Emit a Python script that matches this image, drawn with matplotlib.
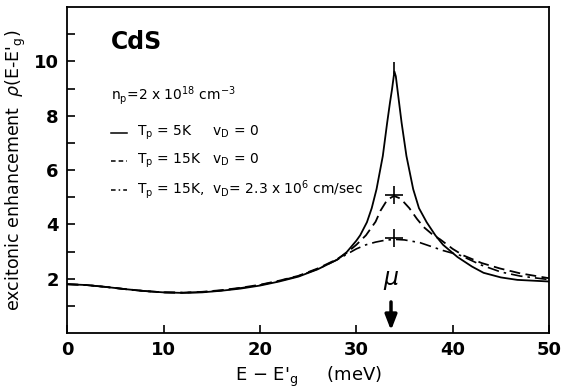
import numpy as np
import matplotlib.pyplot as plt

# solid: T_p = 5K, v_D = 0
x_5k = [0, 2, 4, 6, 8, 10, 12, 14, 16, 18, 20, 22, 24, 26, 28, 29, 30, 30.4, 31.1,
        31.6, 32.1, 32.75, 33.2, 33.5, 33.7, 33.95, 34.1, 34.27, 34.7, 35.2, 35.9,
        36.5, 37.3, 38.2, 39, 40.5, 42, 43.2, 45, 46.7, 50]
y_5k = [1.8, 1.77, 1.7, 1.62, 1.55, 1.5, 1.48, 1.5, 1.56, 1.64, 1.75, 1.9, 2.08, 2.35,
        2.7, 2.98, 3.4, 3.6, 4.08, 4.6, 5.3, 6.52, 7.74, 8.5, 8.96, 9.63, 9.45, 8.96,
        7.74, 6.52, 5.3, 4.6, 4.08, 3.6, 3.25, 2.8, 2.45, 2.22, 2.05, 1.96, 1.9]

# dashed: T_p = 15K, v_D = 0
x_15k = [0, 2, 4, 6, 8, 10, 12, 14, 16, 18, 20, 22, 24, 26, 28, 29, 30, 31, 32, 32.5,
         33.2, 33.9, 34.6, 35.5, 36.3, 37, 38, 38.7, 40, 41.1, 43, 44.9, 47, 50]
y_15k = [1.8, 1.77, 1.7, 1.62, 1.55, 1.5, 1.49, 1.52, 1.58, 1.67, 1.78, 1.93, 2.11,
         2.38, 2.72, 2.95, 3.25, 3.6, 4.1, 4.5, 4.9, 5.05, 4.95, 4.6, 4.2, 3.9, 3.6,
         3.45, 3.1, 2.86, 2.58, 2.38, 2.2, 2.02]

# dash-dot: T_p = 15K, v_D = 2.3e6 cm/sec
x_drift = [0, 2, 4, 6, 8, 10, 12, 14, 16, 18, 20, 22, 24, 26, 28, 29, 30, 31, 32, 33,
           34, 35, 36.6, 39, 40.8, 43, 45, 47, 50]
y_drift = [1.8, 1.77, 1.7, 1.62, 1.55, 1.5, 1.49, 1.51, 1.57, 1.66, 1.77, 1.92, 2.1,
           2.36, 2.7, 2.9, 3.1, 3.25, 3.35, 3.42, 3.45, 3.43, 3.33, 3.04, 2.86, 2.5,
           2.25, 2.1, 1.97]

mu = 33.6
cross_x = [33.9, 33.9]
cross_y = [5.1, 3.5]

plt.figure(figsize=(5.69, 3.91), dpi=100)
ax = plt.axes([0.118, 0.148, 0.847, 0.834])

ax.plot(x_5k, y_5k, color='black', lw=1.3, ls='-')
ax.plot(x_15k, y_15k, color='black', lw=1.3, ls=(0, (6, 3)))
ax.plot(x_drift, y_drift, color='black', lw=1.2, ls=(0, (7, 3, 1.5, 3)))
ax.plot(cross_x, cross_y, ls='none', marker='+', ms=13, mew=1.2, color='black')
ax.plot([33.95], [9.75], ls='none', marker='|', ms=8, mew=1.2, color='black')

# arrow for mu
ax.annotate('', xy=(mu, 0), xytext=(mu, 1.25),
            arrowprops=dict(arrowstyle='-|>,head_width=0.35,head_length=0.9',
                            color='black', lw=2.5))
ax.text(mu, 1.5, r'$\mu$', ha='center', va='bottom', fontsize=17)

ax.set_xlim(0, 50)
ax.set_ylim(0, 12)
ax.set_xticks([0, 10, 20, 30, 40, 50])
ax.set_yticks([2, 4, 6, 8, 10])
ax.set_yticks([1, 3, 5, 7, 9, 11], minor=True)
ax.tick_params(direction='in', length=6, width=1.2, labelsize=13, pad=6)
ax.tick_params(which='minor', direction='in', length=6, width=1.2)
for lab in ax.get_xticklabels() + ax.get_yticklabels():
    lab.set_fontweight('bold')
for sp in ax.spines.values():
    sp.set_linewidth(1.3)

ax.set_xlabel(r"E $-$ E$'_\mathrm{g}$     (meV)", fontsize=13, labelpad=4)
ax.set_ylabel(r"excitonic enhancement  $\rho$(E-E$'_\mathrm{g}$)", fontsize=12.5, labelpad=4)

# in-plot text
ax.text(0.09, 0.87, 'CdS', transform=ax.transAxes, fontsize=17, fontweight='bold')
ax.text(0.09, 0.715, r'n$_\mathrm{p}$=2 x 10$^{18}$ cm$^{-3}$', transform=ax.transAxes,
        fontsize=10)

legend_rows = [
    ('-', r'T$_\mathrm{p}$ = 5K     v$_\mathrm{D}$ = 0'),
    ((0, (3, 2)), r'T$_\mathrm{p}$ = 15K   v$_\mathrm{D}$ = 0'),
    ((0, (3, 2, 1, 2)), r'T$_\mathrm{p}$ = 15K,  v$_\mathrm{D}$= 2.3 x 10$^6$ cm/sec'),
]
for i, (style, label) in enumerate(legend_rows):
    yy = 0.615 - i * 0.088
    ax.plot([0.09, 0.125], [yy, yy], transform=ax.transAxes, color='black',
            lw=1.1, ls=style)
    ax.text(0.145, yy, label, transform=ax.transAxes, fontsize=10, va='center')

plt.savefig('out.png', dpi=100)
